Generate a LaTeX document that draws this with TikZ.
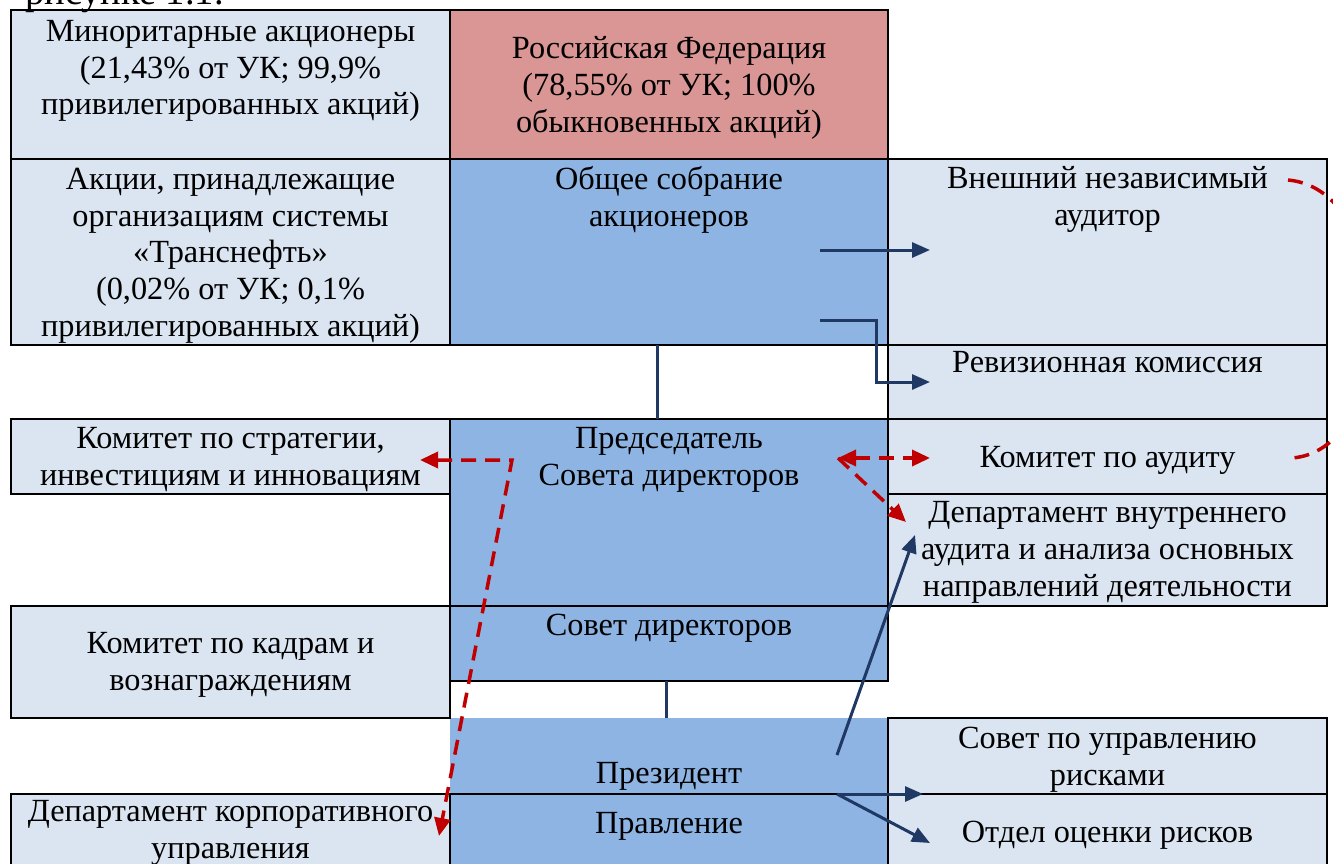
\documentclass[tikz,border=0pt]{standalone}
\usepackage{fontspec}
\setmainfont{Liberation Serif}
\usetikzlibrary{arrows.meta}
\definecolor{lb}{HTML}{DBE5F1}
\definecolor{pk}{HTML}{D99694}
\definecolor{bl}{HTML}{8EB4E3}
\definecolor{nv}{HTML}{1F3864}
\definecolor{rd}{HTML}{C00000}
\begin{document}
\begin{tikzpicture}[x=1pt,y=-1pt,
  boxline/.style={draw=black,line width=2.5pt},
  txt/.style={align=center,font=\fontsize{32.3}{36.6}\selectfont,inner sep=0pt,anchor=base},
  conn/.style={draw=nv,line width=3pt},
  carr/.style={conn,-{Triangle[length=18pt,width=15pt]}},
  rdash/.style={draw=rd,line width=3.5pt,dash pattern=on 15pt off 9pt},
  rtips/.style={{Triangle[length=18pt,width=16pt]}-{Triangle[length=18pt,width=16pt]}},
  rtip/.style={-{Triangle[length=18pt,width=16pt]}}]
\useasboundingbox (0,0) rectangle (1333,864);
\begin{scope}
\clip (0,0) rectangle (1333,864);
% fills
\fill[lb] (11,10) rectangle (450,159);
\fill[pk] (450,10) rectangle (888,159);
\fill[lb] (11,159) rectangle (450,345);
\fill[bl] (450,159) rectangle (888,345);
\fill[lb] (888,159) rectangle (1327,345);
\fill[lb] (888,345) rectangle (1327,419);
\fill[lb] (11,419) rectangle (450,494);
\fill[bl] (450,419) rectangle (888,606);
\fill[lb] (888,419) rectangle (1327,494);
\fill[lb] (888,494) rectangle (1327,606);
\fill[bl] (450,606) rectangle (888,681);
\fill[lb] (11,606) rectangle (450,718);
\fill[bl] (450,718) rectangle (888,794);
\fill[lb] (888,718) rectangle (1327,794);
\fill[lb] (11,794) rectangle (450,880);
\fill[bl] (450,794) rectangle (888,880);
\fill[lb] (888,794) rectangle (1327,880);
% borders
\draw[boxline] (11,10) rectangle (450,159);
\draw[boxline] (450,10) rectangle (888,159);
\draw[boxline] (11,159) rectangle (450,345);
\draw[boxline] (450,159) rectangle (888,345);
\draw[boxline] (888,159) rectangle (1327,345);
\draw[boxline] (888,345) rectangle (1327,419);
\draw[boxline] (11,419) rectangle (450,494);
\draw[boxline] (450,419) rectangle (888,606);
\draw[boxline] (888,419) rectangle (1327,494);
\draw[boxline] (888,494) rectangle (1327,606);
\draw[boxline] (450,606) rectangle (888,681);
\draw[boxline] (11,606) rectangle (450,718);
\draw[boxline] (888,718) rectangle (1327,794);
\draw[boxline] (11,794) rectangle (450,880);
\draw[boxline] (450,794) rectangle (888,880);
\draw[boxline] (888,794) rectangle (1327,880);
% cut-off caption text at the top
\node[font=\fontsize{38.5}{44}\selectfont,inner sep=0pt,anchor=base west] (cap) at (25,5) {рисунке 1.1.};
% texts (anchor = baseline of last line)
\node[txt] (minor) at (230.5,115) {Миноритарные акционеры\\(21,43\% от УК; 99,9\%\\привилегированных акций)};
\node[txt] (rf) at (669,132) {Российская Федерация\\(78,55\% от УК; 100\%\\обыкновенных акций)};
\node[txt] (akcii) at (230.5,336) {Акции, принадлежащие\\организациям системы\\«Транснефть»\\(0,02\% от УК; 0,1\%\\привилегированных акций)};
\node[txt] (osa) at (669,226.5) {Общее собрание\\акционеров};
\node[txt] (audit) at (1107.5,225.5) {Внешний независимый\\аудитор};
\node[txt] (rev) at (1107.5,372) {Ревизионная комиссия};
\node[txt] (kstrat) at (230.5,485.5) {Комитет по стратегии,\\инвестициям и инновациям};
\node[txt] (pred) at (669,485.5) {Председатель\\Совета директоров};
\node[txt] (kaud) at (1107.5,467) {Комитет по аудиту};
\node[txt] (dva) at (1107.5,596) {Департамент внутреннего\\аудита и анализа основных\\направлений деятельности};
\node[txt] (sd) at (669,635) {Совет директоров};
\node[txt] (kkadr) at (230.5,690.5) {Комитет по кадрам и\\вознаграждениям};
\node[txt] (pres) at (669,783) {Президент};
\node[txt] (sur) at (1107.5,785.5) {Совет по управлению\\рисками};
\node[txt] (dku) at (230.5,858.5) {Департамент корпоративного\\управления};
\node[txt] (prav) at (669,833) {Правление};
\node[txt] (oor) at (1107.5,842) {Отдел оценки рисков};
% connector coordinates
\coordinate (a1s) at (820,250); \coordinate (a1e) at (930,250);
\coordinate (a2s) at (820,320); \coordinate (a2m) at (876,320); \coordinate (a2n) at (876,382); \coordinate (a2e) at (930,382);
\coordinate (v1s) at (657,345); \coordinate (v1e) at (657,419);
\coordinate (v2s) at (666,681); \coordinate (v2e) at (666,718);
\coordinate (p1) at (837,755); \coordinate (p1e) at (915,535);
\coordinate (p2) at (837,794); \coordinate (p2e) at (923,794); \coordinate (p3e) at (930,843);
\coordinate (r1a) at (420,460); \coordinate (r1m) at (512,460); \coordinate (r1b) at (439,836);
\coordinate (r2a) at (838,458); \coordinate (r2b) at (930,458); \coordinate (r2c) at (906,522);
\coordinate (r3a) at (1288,180); \coordinate (r3b) at (1292,458);
% navy connectors
\draw[carr] (a1s) -- (a1e);
\draw[carr] (a2s) -- (a2m) -- (a2n) -- (a2e);
\draw[conn] (v1s) -- (v1e);
\draw[conn] (v2s) -- (v2e);
\draw[carr] (p1) -- (p1e);
\draw[carr] (p2) -- (p2e);
\draw[carr] (p2) -- (p3e);
% red dashed connectors
\draw[rdash,rtips] (r1a) -- (r1m) -- (r1b);
\draw[rdash,rtips] (r2a) -- (r2b);
\draw[rdash,rtip] (r2a) -- (r2c);
\draw[rdash] (r3a) .. controls (1400,190) and (1400,450) .. (r3b);
\end{scope}
\end{tikzpicture}
\end{document}
